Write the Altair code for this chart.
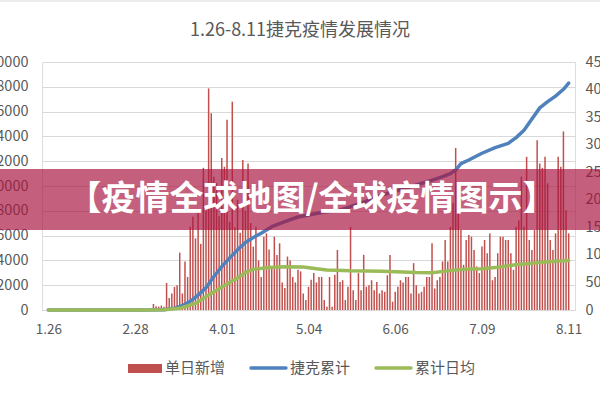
import altair as alt
import pandas as pd

FONT = "Noto Sans CJK SC"
TXT = "#595959"

title_text = "1.26-8.11捷克疫情发展情况"
banner_text = "【疫情全球地图/全球疫情图示】"
series_names = ["单日新增", "捷克累计", "累计日均"]
series_colors = ["#C0504D", "#4F81BD", "#9BBB59"]

tick_days = [0, 33, 66, 99, 132, 165, 198]
tick_labels = ["1.26", "2.28", "4.01", "5.04", "6.06", "7.09", "8.11"]

# daily new cases, day 0 = 1.26 ... day 198 = 8.11 (right axis)
daily_new = [
    0, 0, 0, 0, 0, 0, 0,
    0, 0, 0, 0, 0, 0, 0,
    0, 0, 0, 0, 0, 0, 0,
    0, 0, 0, 0, 0, 0, 0,
    0, 0, 0, 0, 0, 0, 0,
    3, 0, 2, 0, 3, 11, 7,
    6, 8, 6, 49, 22, 30, 42,
    45, 104, 30, 88, 60, 151, 169,
    130, 181, 120, 258, 180, 402, 357,
    242, 230, 170, 276, 260, 345, 160,
    378, 150, 200, 140, 272, 180, 266,
    158, 115, 151, 90, 60, 133, 139,
    110, 75, 133, 100, 121, 50, 40,
    97, 90, 60, 50, 73, 70, 30,
    18, 42, 55, 67, 50, 60, 60,
    18, 6, 60, 6, 64, 109, 51,
    54, 18, 42, 151, 36, 18, 67,
    36, 100, 42, 45, 54, 36, 51,
    30, 36, 33, 63, 100, 15, 33,
    42, 54, 50, 60, 60, 30, 85,
    45, 30, 33, 42, 60, 60, 121,
    39, 54, 60, 88, 127, 88, 151,
    194, 294, 185, 145, 82, 127, 136,
    133, 109, 79, 67, 115, 127, 103,
    139, 54, 60, 103, 133, 133, 127,
    127, 103, 73, 151, 163, 242, 151,
    278, 127, 109, 145, 308, 266, 258,
    278, 230, 127, 109, 139, 278, 260,
    324, 181, 139,
]
days = list(range(len(daily_new)))

# cumulative (left axis), read at sample days
cum_days = [0, 35, 44, 48, 51, 54, 57, 60, 63, 66, 69, 72, 75, 78, 81, 85, 90, 95,
            100, 105, 110, 115, 120, 127, 133, 140, 145, 150, 153, 155, 157, 160,
            165, 170, 175, 178, 181, 184, 187, 190, 193, 196, 198]
cum_values = [0, 0, 20, 150, 350, 700, 1200, 1800, 2700, 3500, 4200, 4850, 5450,
              5850, 6185, 6720, 7120, 7500, 7700, 7900, 8000, 8330, 8700, 9274,
              9650, 10080, 10400, 10750, 11000, 11290, 11800, 12100, 12640, 13100,
              13440, 13900, 14500, 15400, 16300, 16800, 17250, 17800, 18300]

# cumulative daily average (right axis), read at sample days
avg_days = [0, 35, 44, 50, 56, 62, 68, 72, 75, 78, 84, 90, 97, 102, 106, 115, 127,
            140, 146, 152, 158, 165, 171, 177, 183, 190, 198]
avg_values = [0, 0, 0.5, 3, 12, 30, 47, 58, 68, 74, 77, 78.5, 78, 75, 72.5, 71,
              70.5, 68, 67.5, 71, 74, 75, 77.5, 81.5, 84.5, 87.5, 90]

df_bar = pd.DataFrame({"day": days, "value": daily_new})
df_cum = pd.DataFrame({"day": cum_days, "value": cum_values})
df_avg = pd.DataFrame({"day": avg_days, "value": avg_values})

W, H = 533, 248
L, T = 42, 62

label_expr = "[" + ",".join(f"'{s}'" for s in tick_labels) + "][indexof([" + \
    ",".join(str(d) for d in tick_days) + "], datum.value)]"

x_enc = alt.X(
    "day:Q",
    scale=alt.Scale(domain=[-0.5, 198.5], nice=False, zero=False),
    axis=alt.Axis(values=tick_days, labelExpr=label_expr, grid=False, ticks=False,
                  tickSize=0, domain=True, domainColor="#d9d9d9", labelColor=TXT,
                  labelFont=FONT, labelFontSize=13.5, labelPadding=12, title=None),
)

bars = alt.Chart(df_bar).mark_bar(width=1.5, color=series_colors[0]).encode(
    x=x_enc,
    y=alt.Y("value:Q", scale=alt.Scale(domain=[0, 450], nice=False),
            axis=alt.Axis(orient="right", values=list(range(0, 451, 50)), format="d",
                          grid=False, ticks=False, tickSize=0, domain=False,
                          labelColor=TXT, labelFont=FONT, labelFontSize=14.5,
                          labelPadding=10, title=None)),
)

cum_line = alt.Chart(df_cum).mark_line(
    color=series_colors[1], strokeWidth=3.5, strokeCap="round", strokeJoin="round"
).encode(
    x=x_enc,
    y=alt.Y("value:Q", scale=alt.Scale(domain=[0, 20000], nice=False),
            axis=alt.Axis(orient="left", values=list(range(0, 20001, 2000)), format="d",
                          grid=True, gridColor="#d9d9d9", ticks=False, tickSize=0,
                          domain=False, labelColor=TXT, labelFont=FONT,
                          labelFontSize=14.5, labelPadding=14, title=None)),
)

avg_line = alt.Chart(df_avg).mark_line(
    color=series_colors[2], strokeWidth=3.5, strokeCap="round", strokeJoin="round"
).encode(
    x=x_enc,
    y=alt.Y("value:Q", scale=alt.Scale(domain=[0, 450], nice=False), axis=None),
)

one = pd.DataFrame({"k": [0]})

title = alt.Chart(pd.DataFrame({"t": [title_text]})).mark_text(
    font=FONT, fontSize=18, color=TXT, align="center", baseline="middle"
).encode(text="t:N", x=alt.value(300 - L), y=alt.value(31 - T))

# legend
leg_red = alt.Chart(one).mark_rect(color=series_colors[0]).encode(
    x=alt.value(128 - L), x2=alt.value(162 - L), y=alt.value(364 - T), y2=alt.value(373 - T))
leg_blue = alt.Chart(one).mark_rule(color=series_colors[1], strokeWidth=3.5, strokeCap="round").encode(
    x=alt.value(251 - L), x2=alt.value(286 - L), y=alt.value(368 - T))
leg_green = alt.Chart(one).mark_rule(color=series_colors[2], strokeWidth=3.5, strokeCap="round").encode(
    x=alt.value(376 - L), x2=alt.value(411 - L), y=alt.value(368 - T))
leg_texts = []
for name, xpos in zip(series_names, [165, 290, 415]):
    leg_texts.append(
        alt.Chart(pd.DataFrame({"t": [name]})).mark_text(
            font=FONT, fontSize=15, color=TXT, align="left", baseline="middle"
        ).encode(text="t:N", x=alt.value(xpos - L), y=alt.value(368 - T))
    )

top_border = alt.Chart(one).mark_rule(color="#d9d9d9", strokeWidth=1).encode(
    x=alt.value(-L), x2=alt.value(600 - L), y=alt.value(1 - T))

banner = alt.Chart(one).mark_rect(color="#A8143F", opacity=0.68).encode(
    x=alt.value(-L), x2=alt.value(600 - L), y=alt.value(169 - T), y2=alt.value(230 - T))
banner_label = alt.Chart(pd.DataFrame({"t": [banner_text]})).mark_text(
    font=FONT, fontSize=34, fontWeight="bold", color="white", align="center",
    baseline="middle"
).encode(text="t:N", x=alt.value(312 - L), y=alt.value(200 - T))

chart = alt.layer(
    bars, cum_line, avg_line, title, leg_red, leg_blue, leg_green, *leg_texts,
    top_border, banner, banner_label
).resolve_scale(y="independent").properties(
    width=W, height=H, autosize="none",
    padding={"left": L, "top": T, "right": 600 - L - W, "bottom": 400 - T - H},
).configure_view(stroke=None).configure(background="white")

chart.save("out.html", embed_options={"renderer": "svg", "actions": False})
